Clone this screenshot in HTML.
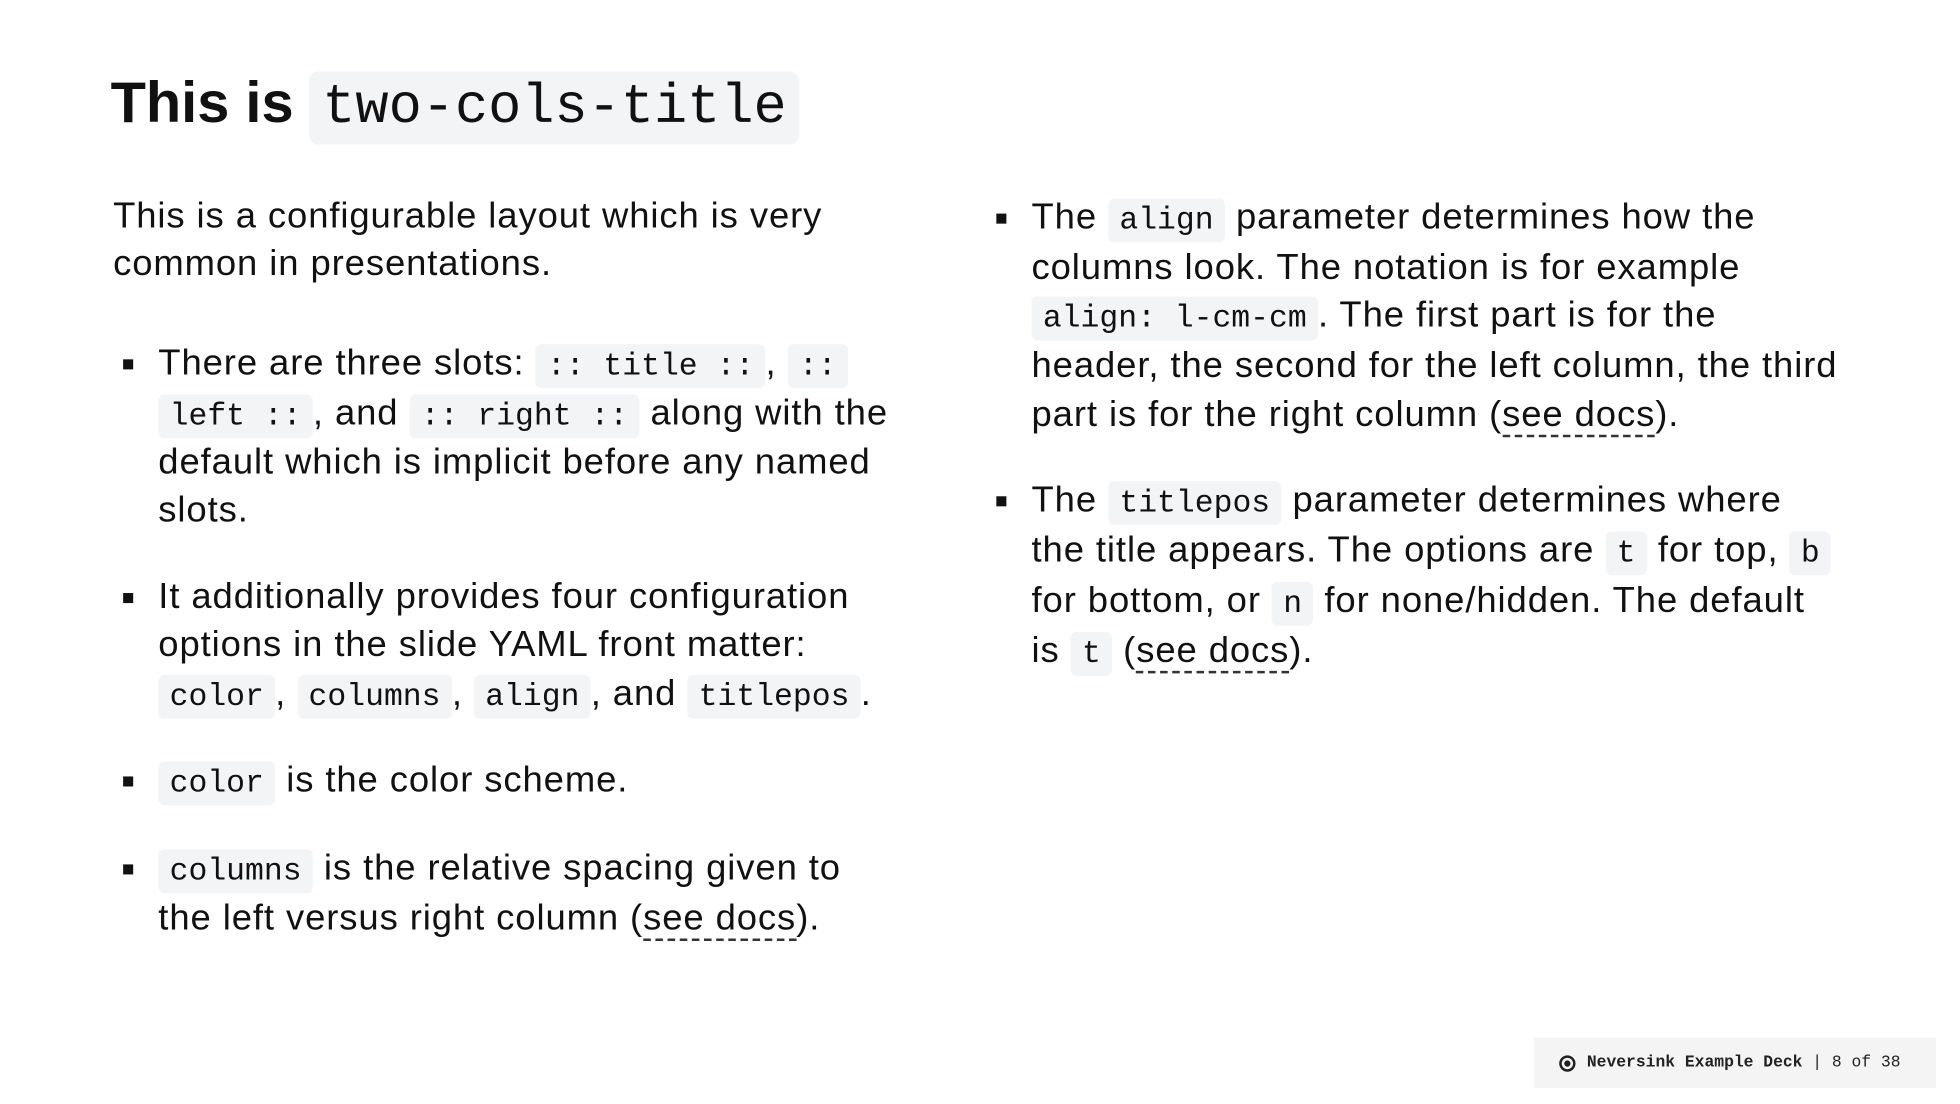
<!DOCTYPE html>
<html><head><meta charset="utf-8"><style>
html,body{margin:0;padding:0;background:#fff;width:1960px;height:1104px;overflow:hidden}
#s{position:absolute;left:0;top:0;width:1560px;height:879px;transform:scale(1.25641);transform-origin:0 0;font-family:"Liberation Sans",sans-serif;color:#111;font-size:29px;letter-spacing:0.72px}
.l{position:absolute;white-space:nowrap;line-height:40px;height:40px}
code{font-family:"Liberation Mono",monospace;font-size:25px;letter-spacing:0;background:#f3f4f6;border-radius:5px;padding:3px 9px}
.b{position:absolute;width:8px;height:8px;background:#111}
a{color:#111;text-decoration:none;border-bottom:2px dashed #333}
h1{position:absolute;left:88px;top:50px;margin:0;font-size:46px;font-weight:bold;white-space:nowrap;line-height:62px;letter-spacing:0}
h1 code{font-size:44px;font-weight:normal;padding:4px 10px;border-radius:7px;letter-spacing:0}
#f{position:absolute;left:1221px;top:826px;width:320px;height:40px;background:#f4f4f4;font-family:"Liberation Mono",monospace;font-size:13px;line-height:40px;color:#222;letter-spacing:0}
</style></head><body><div id="s">
<h1>This is <code>two-cols-title</code></h1>
<div class="l" style="left:90px;top:152px">This is a configurable layout which is very</div>
<div class="l" style="left:90px;top:190px">common in presentations.</div>

<div class="b" style="left:98px;top:286px"></div>
<div class="l" style="left:126px;top:269px">There are three slots: <code>:: title ::</code>, <code>::</code></div>
<div class="l" style="left:126px;top:309px"><code>left ::</code>, and <code>:: right ::</code> along with the</div>
<div class="l" style="left:126px;top:348px">default which is implicit before any named</div>
<div class="l" style="left:126px;top:386px">slots.</div>

<div class="b" style="left:98px;top:472px"></div>
<div class="l" style="left:126px;top:455px">It additionally provides four configuration</div>
<div class="l" style="left:126px;top:493px">options in the slide YAML front matter:</div>
<div class="l" style="left:126px;top:532px"><code>color</code>, <code>columns</code>, <code>align</code>, and <code>titlepos</code>.</div>

<div class="b" style="left:98px;top:618px"></div>
<div class="l" style="left:126px;top:601px"><code>color</code> is the color scheme.</div>

<div class="b" style="left:98px;top:688px"></div>
<div class="l" style="left:126px;top:671px"><code>columns</code> is the relative spacing given to</div>
<div class="l" style="left:126px;top:711px">the left versus right column (<a>see docs</a>).</div>

<div class="b" style="left:793px;top:170px"></div>
<div class="l" style="left:821px;top:153px">The <code>align</code> parameter determines how the</div>
<div class="l" style="left:821px;top:193px">columns look. The notation is for example</div>
<div class="l" style="left:821px;top:231px"><code>align: l-cm-cm</code>. The first part is for the</div>
<div class="l" style="left:821px;top:271px">header, the second for the left column, the third</div>
<div class="l" style="left:821px;top:310px">part is for the right column (<a>see docs</a>).</div>

<div class="b" style="left:793px;top:395px"></div>
<div class="l" style="left:821px;top:378px">The <code>titlepos</code> parameter determines where</div>
<div class="l" style="left:821px;top:418px">the title appears. The options are <code>t</code> for top, <code>b</code></div>
<div class="l" style="left:821px;top:458px">for bottom, or <code>n</code> for none/hidden. The default</div>
<div class="l" style="left:821px;top:498px">is <code>t</code> (<a>see docs</a>).</div>

<div id="f"><span style="position:absolute;left:20px;top:14px;width:9px;height:9px;border:2px solid #222;border-radius:50%;box-sizing:content-box"></span><span style="position:absolute;left:24px;top:18px;width:5px;height:5px;background:#222;border-radius:50%"></span><span style="position:absolute;left:42px"><b>Neversink Example Deck</b> | 8 of 38</span></div>
</div></body></html>
